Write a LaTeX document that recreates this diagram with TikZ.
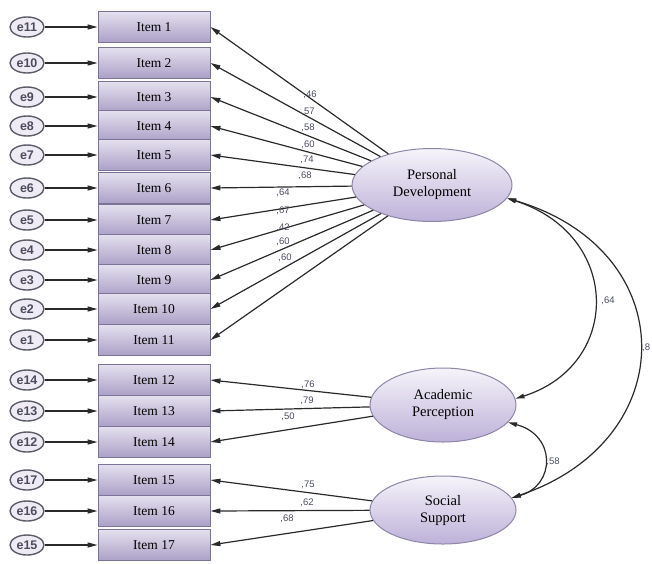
\documentclass[tikz,border=0pt]{standalone}
\usepackage{fontspec}
\setmainfont{Liberation Serif}
\setsansfont{Liberation Sans}
\newfontfamily\serifont{Liberation Serif}
\newfontfamily\sansfont{Liberation Sans}
\usetikzlibrary{arrows.meta,shapes.geometric}
\definecolor{boxtop}{HTML}{E4E0EE}
\definecolor{boxbot}{HTML}{ABA0C6}
\definecolor{boxline}{HTML}{7C7496}
\definecolor{lattop}{HTML}{F6F4FA}
\definecolor{latbot}{HTML}{BDB1D8}
\definecolor{latline}{HTML}{8E86A6}
\definecolor{errfill}{HTML}{EFEBF5}
\definecolor{errline}{HTML}{5C5C68}
\definecolor{errtext}{HTML}{4C4C5C}
\definecolor{arrowcol}{HTML}{2A2A2A}
\definecolor{coefcol}{HTML}{4A4E5E}
\begin{document}
\begin{tikzpicture}[x=1pt,y=-1pt,
  itembox/.style={rectangle, minimum width=112pt, minimum height=31pt, inner sep=0pt,
    top color=boxtop, bottom color=boxbot, draw=boxline, line width=0.9pt,
    font=\serifont\fontsize{13.5}{14}\selectfont},
  errnode/.style={ellipse, minimum width=34pt, minimum height=20pt, inner sep=0pt,
    fill=errfill, draw=errline, line width=1.4pt,
    font=\sansfont\bfseries\fontsize{12.5}{12.5}\selectfont, text=errtext},
  latent/.style={ellipse, inner sep=0pt, top color=lattop, bottom color=latbot,
    draw=latline, line width=1pt, align=center,
    font=\serifont\fontsize{14.5}{17}\selectfont},
  load/.style={draw=arrowcol, line width=1.2pt, -{Triangle[length=10pt,width=5pt]}},
  cov/.style={draw=arrowcol, line width=1.2pt,
    {Triangle[length=9pt,width=4.5pt]}-{Triangle[length=9pt,width=4.5pt]}},
  coef/.style={font=\sansfont\fontsize{9.5}{10}\selectfont, text=coefcol, inner sep=0pt}
]
\useasboundingbox (0,0) rectangle (652,563);

% observed items and their errors
\foreach \k/\y/\e in {1/27/11, 2/63/10, 3/97/9, 4/126/8, 5/155/7, 6/188/6,
                      7/220/5, 8/250/4, 9/280/3, 10/309/2, 11/340/1,
                      12/380/14, 13/411/13, 14/442/12,
                      15/480/17, 16/511/16, 17/545/15}{
  \node[itembox] (i\k) at (154,\y) {Item \k};
  \node[errnode] (e\k) at (27,\y) {e\e};
  \draw[load] (e\k) -- (i\k);
}

% latent variables
\node[latent, minimum width=160pt, minimum height=73pt] (PD) at (432,185) {Personal\\Development};
\node[latent, minimum width=146pt, minimum height=74pt] (AP) at (443,405) {Academic\\Perception};
\node[latent, minimum width=146pt, minimum height=68pt] (SS) at (443,510) {Social\\Support};

% loadings
\foreach \k in {1,...,11}{ \draw[load] (PD) -- (i\k.east); }
\foreach \k in {12,13,14}{ \draw[load] (AP) -- (i\k.east); }
\foreach \k in {15,16,17}{ \draw[load] (SS) -- (i\k.east); }

% covariances
\draw[cov] (PD.-10) .. controls (622,235) and (622,365) .. (AP.5);
\draw[cov] (PD.-10) .. controls (683,250) and (683,440) .. (SS.10);
\draw[cov] (AP.-15) .. controls (556,435) and (556,485) .. (SS.10);

% coefficients
\node[coef] (c1) at (310,95) {,46};
\node[coef] (c2) at (308,112) {,57};
\node[coef] (c3) at (308,128) {,58};
\node[coef] (c4) at (308,145) {,60};
\node[coef] (c5) at (307,160) {,74};
\node[coef] (c6) at (305,176) {,68};
\node[coef] (c7) at (283,193) {,64};
\node[coef] (c8) at (283,211) {,67};
\node[coef] (c9) at (283,228) {,42};
\node[coef] (c10) at (283,242) {,60};
\node[coef] (c11) at (285,258) {,60};
\node[coef] (c12) at (308,385) {,76};
\node[coef] (c13) at (307,401) {,79};
\node[coef] (c14) at (288,417) {,50};
\node[coef] (c15) at (308,485) {,75};
\node[coef] (c16) at (307,503) {,62};
\node[coef] (c17) at (287,519) {,68};
\node[coef] (r1) at (608,301) {,64};
\node[coef] (r2) at (553,462) {,58};
\node[coef, anchor=west] (r3) at (642,348) {,8};
\end{tikzpicture}
\end{document}
